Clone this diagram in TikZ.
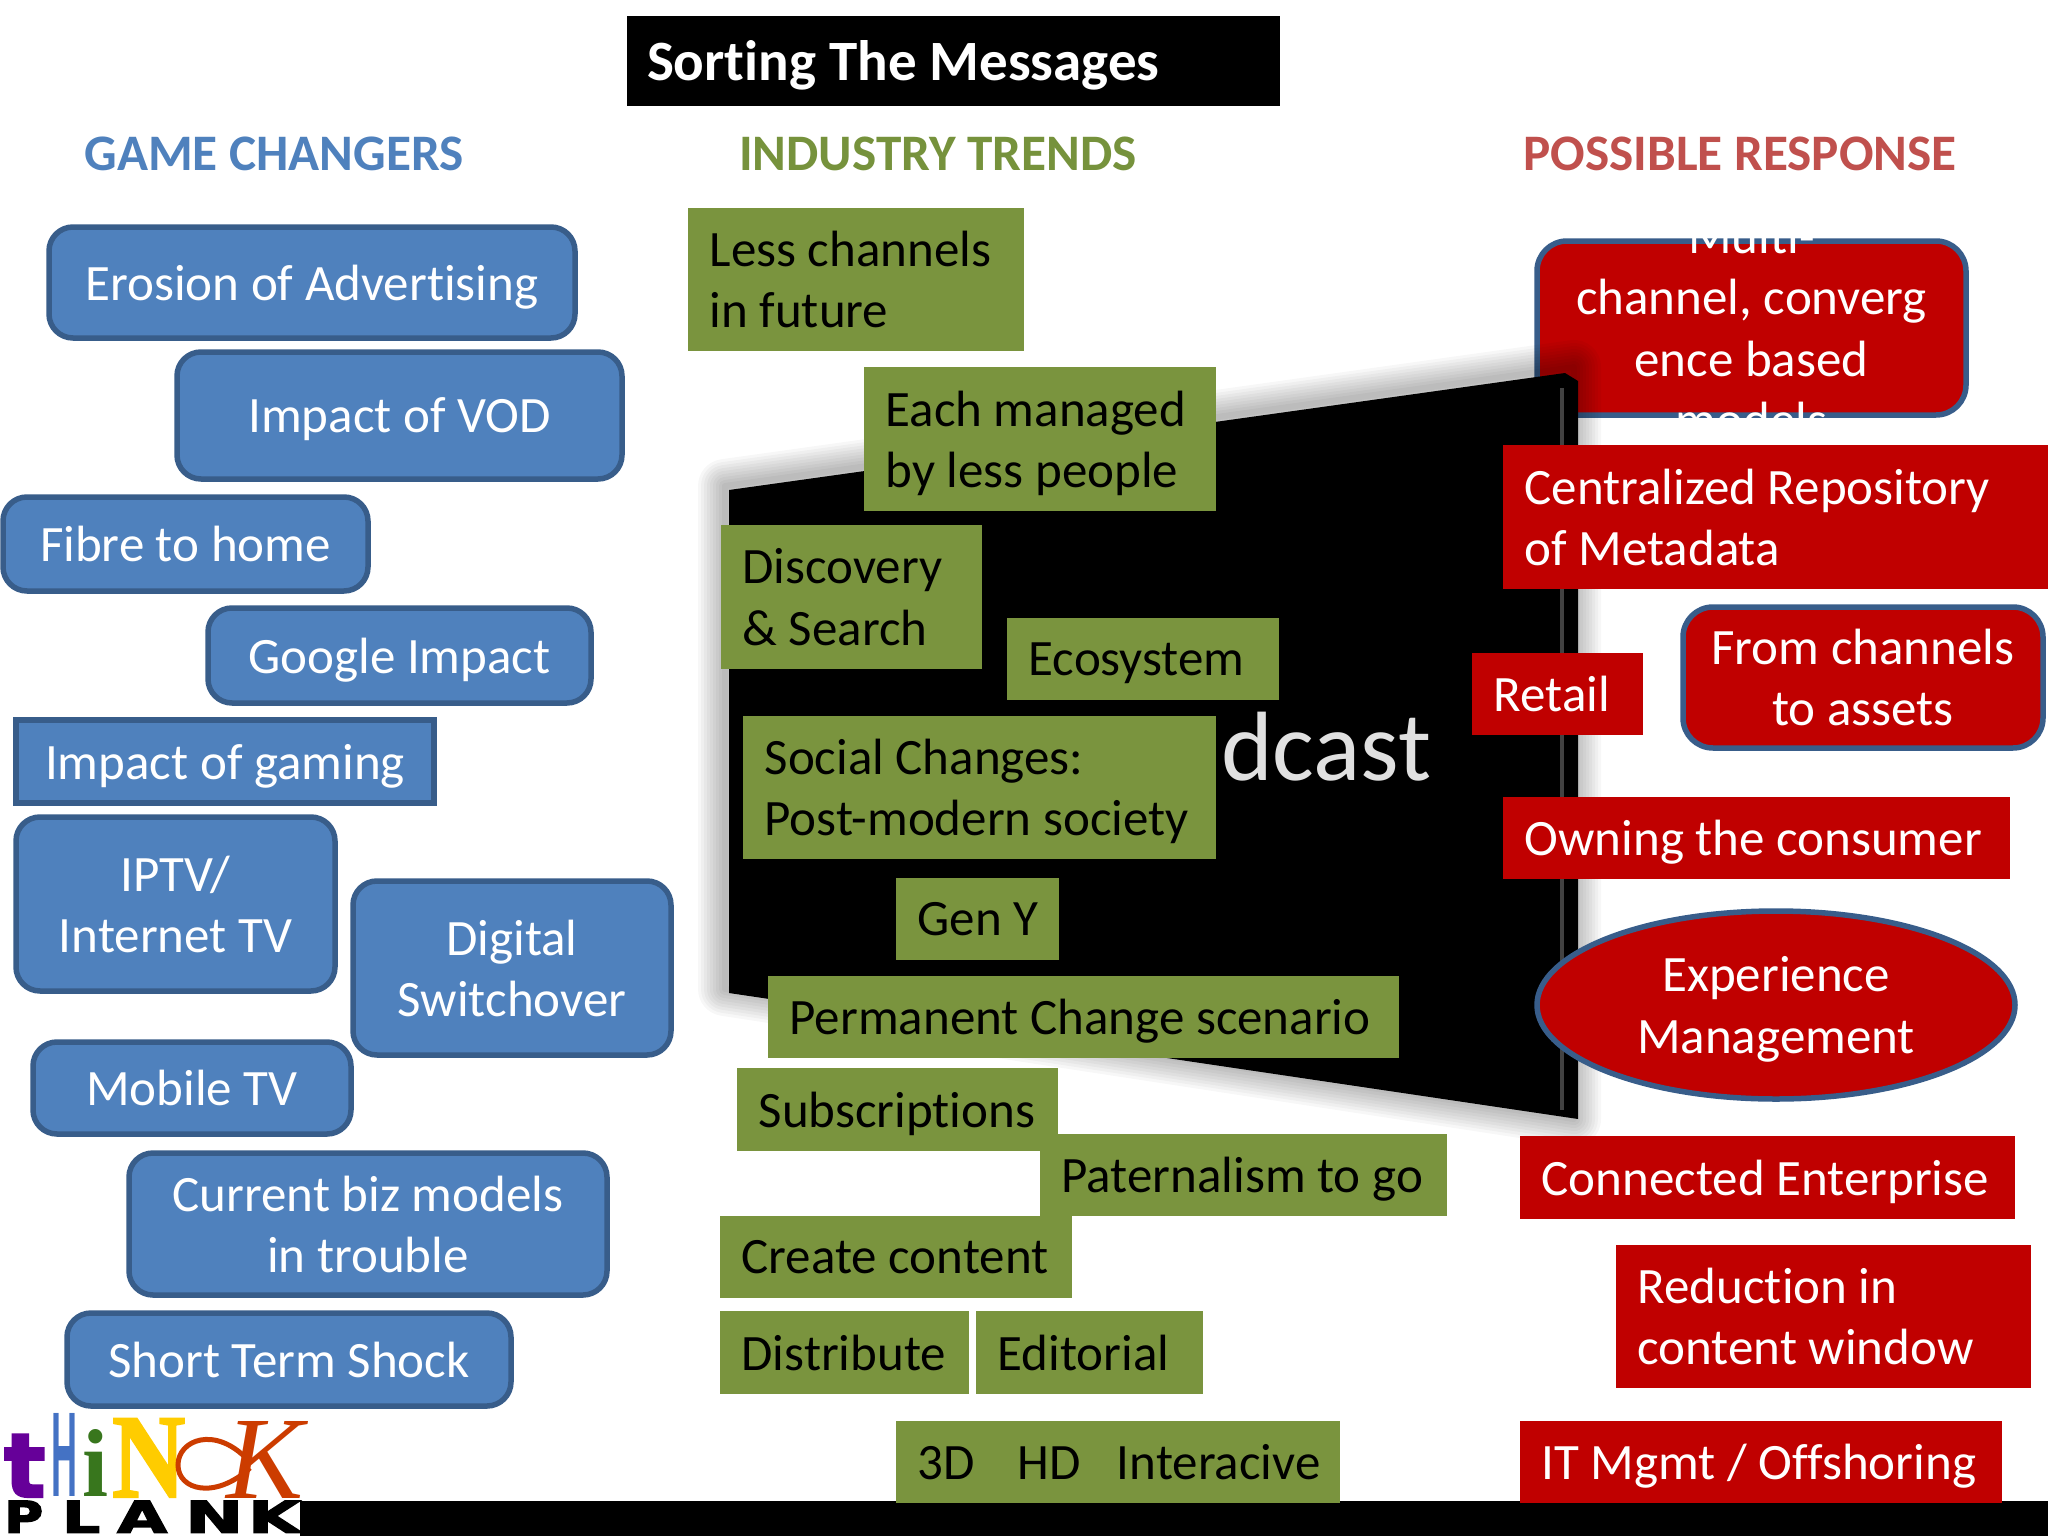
\documentclass[tikz,border=0pt]{standalone}
\usepackage{fontspec}
\setmainfont{Carlito}[Ligatures=NoCommon]
\newfontfamily\logoSerif{Liberation Serif}
\newfontfamily\logoHeavySerif[FakeBold=2]{Liberation Serif Bold}
\newfontfamily\logoSans{Liberation Sans}
\newfontfamily\logoWide[FakeBold=3]{DejaVu Sans Bold}
\usetikzlibrary{positioning}
\usetikzlibrary{shapes.geometric}
\definecolor{blueFill}{RGB}{79,129,189}
\definecolor{blueEdge}{RGB}{56,93,138}
\definecolor{greenFill}{RGB}{122,148,62}
\definecolor{redFill}{RGB}{192,0,0}
\definecolor{headRed}{RGB}{192,80,77}
\definecolor{headGreen}{RGB}{118,146,60}
\definecolor{logoPurple}{RGB}{102,0,153}
\definecolor{logoBlue}{RGB}{68,114,196}
\definecolor{logoGreen}{RGB}{56,118,29}
\definecolor{logoYellow}{RGB}{255,204,0}
\definecolor{logoOrange}{RGB}{204,60,0}
\newcommand{\inset}{21.6}
\newcommand{\dropDepth}{\par\ifdim\prevdepth>0pt \kern-\prevdepth\fi}
\newcommand{\plainSpace}{\spaceskip=\fontdimen2\font\relax}
\tikzstyle{boardFont} = [font=\fontsize{51}{61.4}\selectfont]
\tikzstyle{msgBase} = [boardFont, inner xsep=\inset pt, inner ysep=0pt]
\tikzstyle{blueRound} = [msgBase, fill=blueFill, draw=blueEdge, line width=5.5pt, rounded corners=24pt, text=white, align=center]
\tikzstyle{blueSquare} = [msgBase, fill=blueFill, draw=blueEdge, line width=5.5pt, text=white, align=center]
\tikzstyle{greenRect} = [msgBase, fill=greenFill, text=black, align=left]
\tikzstyle{redRect} = [msgBase, fill=redFill, text=white, align=left]
\tikzstyle{redRound} = [msgBase, fill=redFill, draw=blueEdge, line width=5.5pt, rounded corners=30pt, text=white, align=center]
\tikzstyle{redOval} = [msgBase, ellipse, inner xsep=0pt, fill=redFill, draw=blueEdge, line width=5.5pt, text=white, align=center, text width=300pt]
\tikzstyle{headText} = [font=\fontsize{51.2}{60}\selectfont\bfseries]
\newcommand{\msgBox}[7]{
  \pgfmathsetmacro{\boxWide}{#5 - #3}
  \pgfmathsetmacro{\boxHigh}{#6 - #4}
  \pgfmathsetmacro{\boxMidX}{(#3 + #5) / 2}
  \pgfmathsetmacro{\boxMidY}{(#4 + #6) / 2}
  \pgfmathsetmacro{\boxText}{\boxWide - 2 * \inset}
  \node [text width=\boxText pt, minimum width=\boxWide pt, minimum height=\boxHigh pt, #1] (#2) at (\boxMidX, \boxMidY) {\plainSpace #7\dropDepth};
}
\newcommand{\logoLetter}[7]{
  \node [inner sep=0pt, anchor=south west, text=#5] (#1) at (#2, #3) {\resizebox{#4 pt}{#6 pt}{#7}};
}
\begin{document}
\begin{tikzpicture}[x=1pt, y=-1pt]
  \path [use as bounding box, fill=white] (0,0) rectangle (2048,1536);

  \msgBox{redRound}{multiBox}{1537}{241}{1966}{415}{}
  \begin{scope}
    \clip (1533,237) rectangle (1970,419);
    \node [boardFont, text=white, align=center] (multiText) at (multiBox.center) {Multi-\\channel, converg\\ence based\\models};
  \end{scope}

  \foreach \shadowWidth in {6,12,...,54} {
    \draw [line width=\shadowWidth pt, color=black, opacity=.03, line join=round] (725,486) -- (1574,367) -- (1574,1119) -- (725,989) -- cycle;
  }
  \fill [black] (729,490) -- (1565,373) -- (1578,381) -- (1578,1119) -- (729,993) -- cycle;
  \draw [line width=4pt, color=black!74] (1562,388) -- (1562,1110);
  \node [font=\fontsize{98.5}{110}\selectfont, text=white!88!black, anchor=base west, inner sep=0pt] (tvText) at (1221,780) {dcast};

  \fill [black] (300,1501) rectangle (2048,1536);

  \node [fill=black, text=white, font=\fontsize{57}{66}\selectfont\bfseries, minimum width=653pt, minimum height=90pt, inner xsep=20pt, inner ysep=0pt, text depth=0pt, text width=613pt] (titleBox) at (953.5,61) {\plainSpace Sorting The Messages};
  \node [headText, text=blueFill] (gameHead) at (274,154) {GAME CHANGERS};
  \node [headText, text=headGreen] (trendHead) at (938,154) {INDUSTRY TRENDS};
  \node [headText, text=headRed] (responseHead) at (1740,154) {POSSIBLE RESPONSE};

  \msgBox{blueRound}{erosionBox}{49}{227}{575}{338}{Erosion of Advertising}
  \msgBox{blueRound}{vodBox}{177}{352}{622}{479}{Impact of VOD}
  \msgBox{blueRound}{fibreBox}{3}{497}{368}{591}{Fibre to home}
  \msgBox{blueRound}{googleBox}{208}{608}{591}{703}{Google Impact}
  \msgBox{blueSquare}{gamingBox}{16}{720}{434}{803}{Impact of gaming}
  \msgBox{blueRound}{iptvBox}{16}{817}{335}{991}{IPTV/\\Internet TV}
  \msgBox{blueRound}{switchBox}{353}{881}{671}{1055}{Digital\\Switchover}
  \msgBox{blueRound}{mobileBox}{33}{1042}{351}{1134}{Mobile TV}
  \msgBox{blueRound}{bizBox}{129}{1153}{607}{1295}{Current biz models\\in trouble}
  \msgBox{blueRound}{shockBox}{67}{1313}{511}{1406}{Short Term Shock}

  \msgBox{greenRect}{lessBox}{688}{208}{1024}{351}{Less channels\\in future}
  \msgBox{greenRect}{eachBox}{864}{367}{1216}{511}{Each managed\\by less people}
  \msgBox{greenRect}{discoveryBox}{721}{525}{982}{669}{Discovery\\\& Search}
  \msgBox{greenRect}{ecosystemBox}{1007}{618}{1279}{700}{Ecosystem}
  \msgBox{greenRect}{socialBox}{743}{716}{1216}{859}{Social Changes:\\Post-modern society}
  \msgBox{greenRect}{genBox}{896}{878}{1059}{960}{\mbox{Gen Y}}
  \msgBox{greenRect}{permanentBox}{768}{976}{1399}{1058}{\mbox{Permanent Change scenario}}
  \msgBox{greenRect}{subscriptionBox}{737}{1068}{1058}{1151}{Subscriptions}
  \msgBox{greenRect}{paternalBox}{1040}{1134}{1447}{1216}{\mbox{Paternalism to go}}
  \msgBox{greenRect}{createBox}{720}{1216}{1072}{1298}{\mbox{Create content}}
  \msgBox{greenRect}{distributeBox}{720}{1311}{969}{1394}{Distribute}
  \msgBox{greenRect}{editorialBox}{976}{1311}{1203}{1394}{Editorial}
  \msgBox{greenRect}{formatBox}{896}{1421}{1340}{1503}{\mbox{3D\hspace*{43pt}HD\hspace*{36pt}Interacive}}

  \msgBox{redRect}{metadataBox}{1503}{445}{2048}{589}{Centralized Repository\\of Metadata}
  \msgBox{redRect}{retailBox}{1472}{653}{1643}{735}{Retail}
  \msgBox{redRound}{assetBox}{1683}{607}{2043}{748}{From channels\\to assets}
  \msgBox{redRect}{consumerBox}{1503}{797}{2010}{879}{\mbox{Owning the consumer}}
  \msgBox{redOval}{experienceBox}{1537}{911}{2015}{1099}{Experience\\Management}
  \msgBox{redRect}{enterpriseBox}{1520}{1136}{2015}{1219}{\mbox{Connected Enterprise}}
  \msgBox{redRect}{windowBox}{1616}{1245}{2031}{1388}{Reduction in\\content window}
  \msgBox{redRect}{offshoreBox}{1520}{1421}{2002}{1503}{\mbox{IT Mgmt / Offshoring}}

  \logoLetter{logoT}{4}{1497}{41}{logoPurple}{62}{\logoWide t}
  \logoLetter{logoH}{51}{1497}{26}{logoBlue}{83}{\logoSans\bfseries H}
  \logoLetter{logoI}{82}{1497}{26}{logoGreen}{67}{\logoSerif\bfseries i}
  \logoLetter{logoN}{112}{1497}{73}{logoYellow}{78}{\logoHeavySerif N}
  \logoLetter{logoK}{226}{1499}{77}{logoOrange}{77}{\logoSerif\itshape K}
  \draw [line width=5pt, color=logoOrange] (250,1468) .. controls (215,1500) and (178,1490) .. (178,1465) .. controls (178,1440) and (215,1425) .. (248,1460);
  \logoLetter{logoP}{4}{1533}{39}{black}{32}{\logoWide P}
  \logoLetter{logoL}{62}{1533}{38}{black}{32}{\logoWide L}
  \logoLetter{logoA}{117}{1533}{50}{black}{32}{\logoWide A}
  \logoLetter{logoM}{185}{1533}{58}{black}{32}{\logoWide N}
  \logoLetter{logoC}{248}{1533}{52}{black}{32}{\logoWide K}
\end{tikzpicture}
\end{document}
